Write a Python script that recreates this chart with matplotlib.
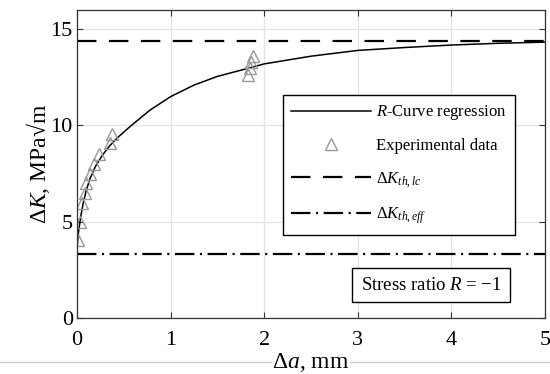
import matplotlib
matplotlib.use('Agg')
import matplotlib.pyplot as plt
from matplotlib.lines import Line2D

plt.rcParams['font.family'] = ['Liberation Serif', 'DejaVu Serif']
plt.rcParams['mathtext.fontset'] = 'custom'
plt.rcParams['mathtext.rm'] = 'Liberation Serif'
plt.rcParams['mathtext.it'] = 'Liberation Serif:italic'
plt.rcParams['lines.scale_dashes'] = False

# R-curve regression, points
curve_da = [0, 0.005, 0.01, 0.02, 0.035, 0.05, 0.07, 0.1, 0.14, 0.2, 0.27,
            0.35, 0.44, 0.58, 0.78, 1.0, 1.25, 1.5, 1.85, 2.0, 2.5, 3.0,
            3.5, 4.0, 4.5, 5.0]
curve_dk = [3.5, 3.9, 4.2, 4.6, 5.1, 5.55, 6.05, 6.65, 7.25, 7.9, 8.45,
            8.95, 9.4, 10.0, 10.8, 11.5, 12.1, 12.55, 13.0, 13.2, 13.6, 13.9,
            14.05, 14.18, 14.27, 14.33]

# experimental data
exp_da = [0.014, 0.03, 0.05, 0.09, 0.10, 0.14, 0.18, 0.23, 0.35, 0.37,
          1.83, 1.85, 1.86, 1.88]
exp_dk = [4.05, 5.0, 5.95, 6.5, 7.0, 7.5, 8.0, 8.5, 9.1, 9.55,
          12.6, 13.0, 13.3, 13.6]

dk_th_lc = 14.4
dk_th_eff = 3.3

fig = plt.figure(figsize=(5.5, 3.74), dpi=100)
ax = fig.add_axes([0.14, 0.1497, 0.851, 0.8236])

ax.plot(curve_da, curve_dk, color='black', lw=1.1, label=r'$R$-Curve regression')
ax.plot(exp_da, exp_dk, linestyle='none', marker='^', ms=9, mfc='none',
        mec='#999999', mew=1.0, label='Experimental data')
ax.axhline(dk_th_lc, color='black', lw=1.6, dashes=(14, 9),
           label=r'$\Delta K_{th,lc}$')
ax.axhline(dk_th_eff, color='black', lw=1.6, dashes=(14, 4, 1.5, 4),
           label=r'$\Delta K_{th,eff}$')

ax.set_xlim(0, 5)
ax.set_ylim(0, 16)
ax.set_xticks([0, 1, 2, 3, 4, 5])
ax.set_yticks([0, 5, 10, 15])
ax.grid(True, color='#e3e3e3', lw=0.9)
ax.set_axisbelow(True)
ax.tick_params(direction='in', top=True, right=True, labelsize=16, pad=3,
               length=4, color='#333333')
ax.tick_params(axis='x', pad=9)
for s in ax.spines.values():
    s.set_color('#333333')
    s.set_linewidth(0.9)

ax.set_xlabel(r'$\Delta a$, mm', fontsize=17, labelpad=1,
              bbox=dict(facecolor='white', edgecolor='none', pad=0))
ax.set_ylabel(r'$\Delta K$, MPa√m', fontsize=17, labelpad=-1)

leg = ax.legend(loc='upper left', bbox_to_anchor=(0.44, 0.724), fontsize=12,
                handlelength=4.8, handletextpad=0.3, labelspacing=0.95,
                fancybox=False, framealpha=1, edgecolor='black',
                borderpad=0.5, borderaxespad=0)
leg.get_frame().set_linewidth(1.0)

ax.text(0.757, 0.107, r'Stress ratio $R$ = −1', transform=ax.transAxes,
        fontsize=13.5, ha='center', va='center',
        bbox=dict(facecolor='white', edgecolor='black', lw=1.0,
                  boxstyle='square,pad=0.45'))

# thin separator line at the bottom of the picture
fig.add_artist(Line2D([0, 1], [0.032, 0.032], color='#cccccc', lw=1,
                      transform=fig.transFigure, zorder=0))

fig.savefig('out.png', dpi=100)
